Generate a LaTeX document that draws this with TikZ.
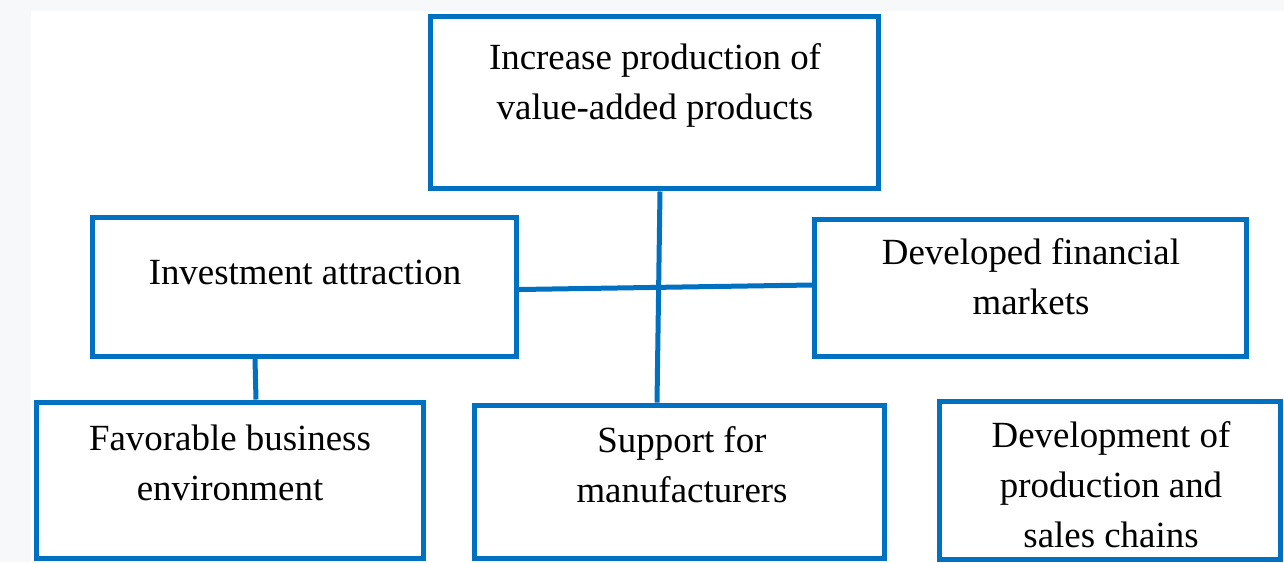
\documentclass[tikz,border=0pt]{standalone}
\usepackage{fontspec}
\setmainfont{Liberation Serif}
\definecolor{boxblue}{HTML}{0070C0}
\definecolor{pagegray}{HTML}{F7F8FA}
\tikzset{
  box/.style={draw=boxblue, line width=0.1cm, inner sep=0pt, fill=none},
  txt/.style={align=center, font=\fontsize{21}{28.5}\selectfont, inner sep=0pt},
  link/.style={draw=boxblue, line width=0.1cm}
}
\begin{document}
\begin{tikzpicture}[x=0.02cm, y=-0.02cm]
    \useasboundingbox (0,0) rectangle (1284,562);
    \fill[pagegray] (0,0) rectangle (1284,562);
    \fill[white] (31,11) rectangle (1284,562);

    % top goal
    \node[box, minimum width=8.98cm, minimum height=3.46cm] (top) at (654.5,102.5) {};
    \node[txt] (top-t) at (655,85) {Increase production of\\value-added products};

    % middle row
    \node[box, minimum width=8.48cm, minimum height=2.78cm] (invest) at (304.5,287) {};
    \node[txt] (invest-t) at (305,272) {Investment attraction};
    \node[box, minimum width=8.65cm, minimum height=2.75cm] (markets) at (1030.75,288.25) {};
    \node[txt] (markets-t) at (1031,277) {Developed financial\\markets};

    % bottom row
    \node[box, minimum width=7.75cm, minimum height=3.14cm] (favor) at (229.75,480.5) {};
    \node[txt] (favor-t) at (230,463) {Favorable business\\environment};
    \node[box, minimum width=8.21cm, minimum height=3.08cm] (support) at (679.75,482) {};
    \node[txt] (support-t) at (682,465) {Support for\\manufacturers};
    \node[box, minimum width=6.83cm, minimum height=3.17cm] (chains) at (1109.75,480.25) {};
    \node[txt] (chains-t) at (1111,485) {Development of\\production and\\sales chains};

    % connectors
    \draw[link] ([xshift=0.11cm]top.south) -- ([xshift=-0.455cm]support.north);
    \draw[link] ([yshift=-0.05cm]invest.east) -- ([yshift=0.065cm]markets.west);
    \draw[link] ([xshift=-0.99cm]invest.south) -- ([xshift=0.525cm]favor.north);
\end{tikzpicture}
\end{document}
